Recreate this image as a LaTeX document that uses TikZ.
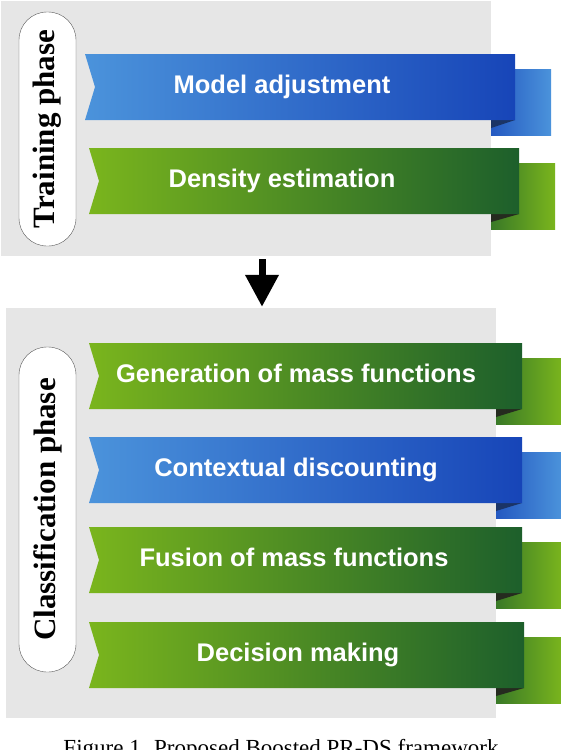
\documentclass[tikz,border=0pt]{standalone}
\usepackage{fontspec}
\setmainfont{Liberation Serif}
\newfontfamily\ribbonfont{Liberation Sans}
\usetikzlibrary{arrows.meta}
\definecolor{panelgrey}{HTML}{E6E6E6}
\definecolor{blueL}{HTML}{4B93DB}
\definecolor{blueR}{HTML}{1745B8}
\definecolor{blueF}{HTML}{1B3466}
\definecolor{greenL}{HTML}{7AB51D}
\definecolor{greenR}{HTML}{1D5F2B}
\definecolor{greenF}{HTML}{252B1F}

\begin{document}
\begin{tikzpicture}[x = 1pt, y = -1pt,
	panel/.style = {fill = panelgrey, inner sep = 0pt},
	pill/.style = {draw = black!65, fill = white, rounded corners = 28pt, minimum height = 57pt, inner sep = 0pt, rotate = 90, font = \fontsize{31}{31}\selectfont\bfseries},
	ribbontext/.style = {text = white, inner sep = 0pt, font = \ribbonfont\fontsize{25.5}{26}\selectfont\bfseries},
	ribbonblue/.style = {left color = blueL, right color = blueR},
	ribbongreen/.style = {left color = greenL, right color = greenR},
	tailblue/.style = {left color = blueR!75!blueL, right color = blueL},
	tailgreen/.style = {left color = greenR!70!greenL, right color = greenL},
	foldblue/.style = {fill = blueF},
	foldgreen/.style = {fill = greenF}]
	\path [use as bounding box, fill = white] (0, 0) rectangle (560, 750);
	\node [panel, minimum width = 490pt, minimum height = 255pt] (train) at (246, 128.5) {};
	\node [panel, minimum width = 490pt, minimum height = 410pt] (classify) at (251, 513) {};
	\node [pill, minimum width = 234pt] (trainlabel) at (47.5, 129) {Training phase};
	\node [pill, minimum width = 325pt] (classlabel) at (47.5, 509.5) {Classification phase};
	\foreach \i/\yt/\xl/\xr/\xp/\xe/\xt/\c/\txt in {
		1/54/85/515/491/551/282/blue/Model adjustment,
		2/148/89/519/491/555/282/green/Density estimation,
		3/343/89/522/496/562/296/green/Generation of mass functions,
		4/437/89/522/496/562/296/blue/Contextual discounting,
		5/527/89/522/496/562/294/green/Fusion of mass functions,
		6/622/89/524/496/562/298/green/Decision making}
	{
		\shade [tail\c] (\xp, \yt + 15) rectangle (\xe, \yt + 81);
		\fill [fold\c] (\xp, \yt + 66) -- (\xr, \yt + 66) -- (\xp, \yt + 74) -- cycle;
		\shade [ribbon\c] (\xl, \yt) -- (\xr, \yt) -- (\xr, \yt + 66) -- (\xl, \yt + 66) -- (\xl + 10, \yt + 33) -- cycle;
		\node [ribbontext, anchor = base] (r\i) at (\xt, \yt + 39) {\txt};
	}
	\coordinate (ax) at (262, 0);
	\draw [black, line width = 7pt, -{Triangle[width = 32pt, length = 32pt]}, shorten <= 3pt, shorten >= 1pt] (train.south -| ax) -- (classify.north -| ax);
	\node [anchor = base, font = \fontsize{23}{23}\selectfont] (caption) at (281, 755) {Figure 1. Proposed Boosted PR-DS framework};
\end{tikzpicture}
\end{document}
